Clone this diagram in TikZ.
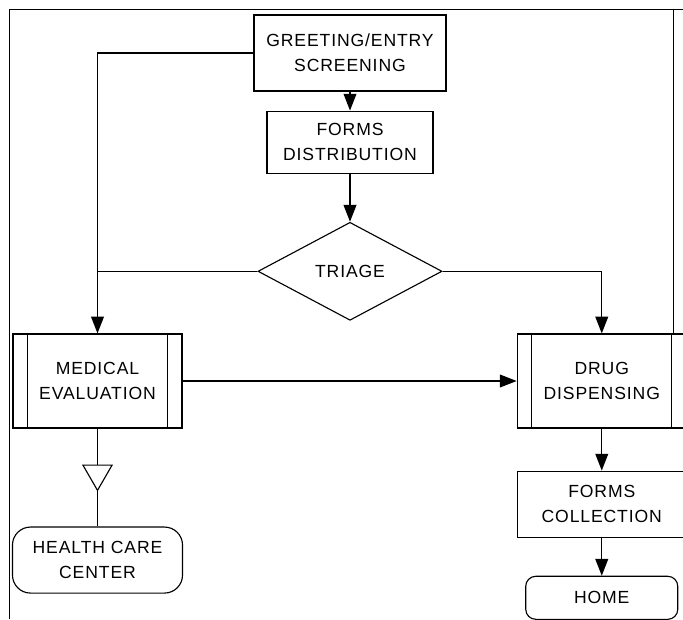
\documentclass[tikz,border=0pt]{standalone}
\usepackage{fontspec}
\setmainfont{Liberation Sans}[LetterSpace=5]
\usepackage{tikz}
\usetikzlibrary{shapes.geometric,arrows.meta,positioning,calc}

\begin{document}
\begin{tikzpicture}[x=0.025cm, y=-0.025cm,
    box/.style={rectangle, draw, line width=0.8pt, align=center, inner sep=2pt, font=\fontsize{12.5}{17.5}\selectfont},
    process/.style={box, minimum width=4.225cm, minimum height=2.35cm},
    terminal/.style={box, rounded corners=#1},
    decision/.style={diamond, draw, line width=0.8pt, inner sep=0pt, minimum width=4.6cm, minimum height=2.45cm, font=\fontsize{12.5}{17.5}\selectfont},
    merge/.style={regular polygon, regular polygon sides=3, shape border rotate=180, draw, line width=0.8pt, inner sep=0pt, minimum size=0.84cm},
    arrow/.style={line width=0.9pt, -{Triangle[length=0.42cm, width=0.32cm]}},
    line/.style={line width=0.8pt}]

    \useasboundingbox (0,0) rectangle (683,619);

    % page frame
    \draw[line width=0.6pt] (683,9) -- (9,9) -- (9,619);
    \draw[line width=0.6pt] (673,9) -- (673,334);

    \node[box, minimum width=4.8cm, minimum height=1.9cm] (greet) at (350,53) {GREETING/ENTRY\\SCREENING};
    \node[box, below=0.475cm of greet, minimum width=4.15cm, minimum height=1.55cm] (fdist) {FORMS\\DISTRIBUTION};
    \node[decision, below=1.2cm of fdist] (triage) {TRIAGE};
    \node[process] (medev) at (97.5,381) {MEDICAL\\EVALUATION};
    \node[process, right=8.35cm of medev] (drug) {DRUG\\DISPENSING};
    \node[box, below=1.05cm of drug, minimum width=4.225cm, minimum height=1.65cm] (fcoll) {FORMS\\COLLECTION};
    \node[terminal=0.25cm, below=0.95cm of fcoll, minimum width=3.8cm, minimum height=1.075cm] (home) {HOME};
    \node[merge, below=0.9cm of medev] (tri) {};
    \node[terminal=0.45cm, below=0.875cm of tri, minimum width=4.25cm, minimum height=1.65cm] (hcc) {HEALTH CARE\\CENTER};

    % side bars of the process boxes
    \foreach \n in {medev, drug} {
        \draw[line] ([xshift=0.375cm]\n.north west) -- ([xshift=0.375cm]\n.south west);
        \draw[line] ([xshift=-0.375cm]\n.north east) -- ([xshift=-0.375cm]\n.south east);
    }

    % flow
    \draw[arrow] (greet) -- (fdist);
    \draw[arrow] (fdist) -- (triage);
    \draw[arrow] (greet.west) -| (medev.north);
    \draw[line] (triage.west) -- (triage.west -| medev.north);
    \draw[arrow] (triage.east) -| (drug.north);
    \draw[arrow] (medev.east) -- (drug.west);
    \draw[arrow] (drug) -- (fcoll);
    \draw[arrow] (fcoll) -- (home);
    \draw[line] (medev.south) -- (tri.north);
    \draw[line] (tri.south) -- (hcc.north);

\end{tikzpicture}
\end{document}
